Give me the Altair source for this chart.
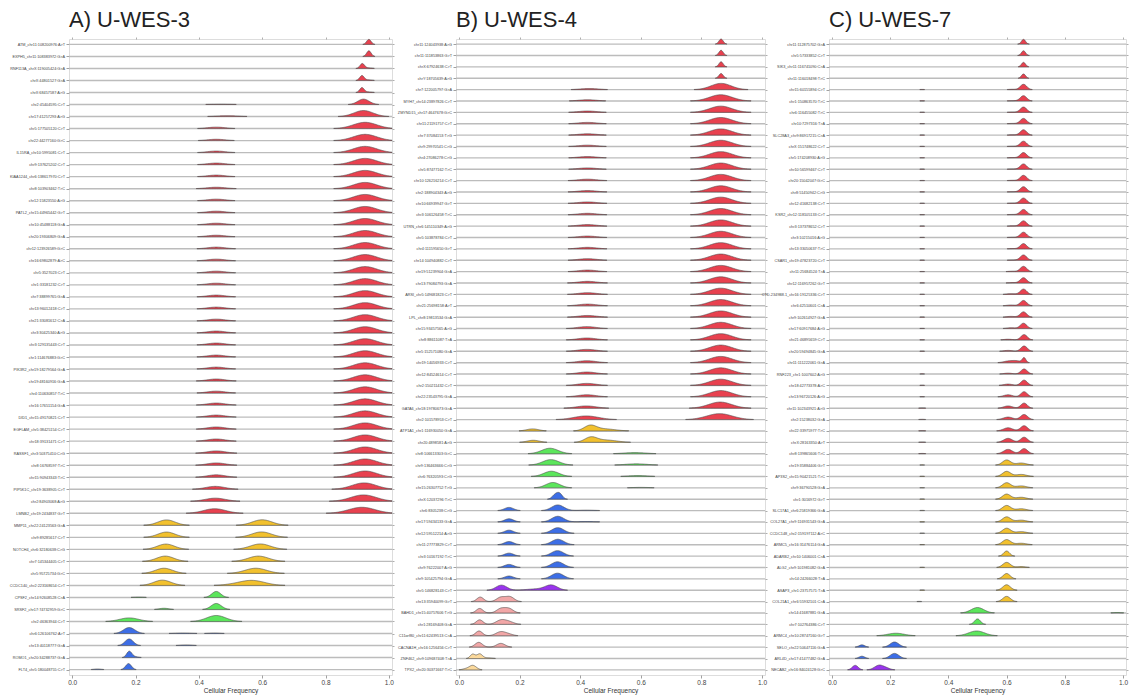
import json
import numpy as np
import pandas as pd
import altair as alt

# ---------------- data ----------------
A_labels = [
    "ATM_chr11:108200976:A>T", "EXPH5_chr11:108383972:G>A", "RNF113A_chrX:119005424:G>A",
    "chrX:44801527:G>A", "chrX:68457587:A>G", "chr2:45404595:C>T", "chr17:41257293:A>G",
    "chr5:177505120:C>T", "chr22:44277160:G>C", "IL15RA_chr10:5995081:C>T", "chr9:137625202:C>T",
    "KIAA1244_chr6:138617970:C>T", "chr8:103903462:T>C", "chr12:15823550:A>G",
    "PATL2_chr15:44965442:G>T", "chr10:45488118:G>A", "chr20:19306809:G>A",
    "chr12:123926589:G>C", "chr16:69802879:A>C", "chr5:3527023:C>T", "chr1:33181232:C>T",
    "chr7:38899765:G>A", "chr13:96012418:C>T", "chr21:33081612:C>A", "chr3:30425340:A>G",
    "chr3:129135443:C>T", "chr1:114676883:G>C", "PIK3R2_chr19:18279564:G>A",
    "chr19:48160916:G>A", "chr4:110630857:T>C", "chr16:17651154:G>A", "DID1_chr15:49170821:C>T",
    "EGFLAM_chr5:38425154:C>T", "chr18:39131471:C>T", "RASSF1_chr3:50375410:C>G",
    "chr8:16768597:T>C", "chr15:90943343:T>C", "PIP5K1C_chr19:3638905:C>T", "chr2:84903068:A>G",
    "LMNB2_chr19:2434837:G>T", "MMP11_chr22:24123563:G>A", "chr9:89285617:C>T",
    "NOTCH4_chr6:32180638:C>G", "chr7:145344405:C>T", "chr5:95725734:G>C",
    "CCDC140_chr2:223168654:C>T", "CPSF2_chr14:92608528:C>A", "SRSF2_chr17:74732959:G>C",
    "chr2:46363944:C>T", "chr6:126106762:A>T", "chr13:40118777:G>A",
    "ROMO1_chr20:34288737:G>A", "FLT4_chr5:180048755:C>T",
]
A_groups = ["r"] * 40 + ["y"] * 6 + ["g"] * 3 + ["b"] * 4
A_peaks = [
    [(0.937, 0.007, 0.42)],
    [(0.937, 0.007, 0.47)],
    [(0.916, 0.007, 0.40), (0.935, 0.012, 0.05)],
    [(0.915, 0.007, 0.40), (0.935, 0.012, 0.05)],
    [(0.915, 0.007, 0.40), (0.935, 0.012, 0.05)],
    [(0.920, 0.018, 0.45), (0.470, 0.040, 0.03)],
    [(0.920, 0.030, 0.50), (0.490, 0.035, 0.07)],
    [(0.925, 0.037, 0.52), (0.455, 0.028, 0.12)],
    [(0.925, 0.037, 0.52), (0.455, 0.028, 0.11)],
    [(0.925, 0.037, 0.52), (0.455, 0.028, 0.13)],
    [(0.925, 0.037, 0.52), (0.455, 0.028, 0.13)],
    [(0.925, 0.037, 0.52), (0.455, 0.028, 0.13)],
    [(0.925, 0.037, 0.52), (0.455, 0.030, 0.12)],
    [(0.925, 0.037, 0.52), (0.455, 0.028, 0.13)],
    [(0.925, 0.037, 0.52), (0.455, 0.028, 0.13)],
    [(0.925, 0.037, 0.52), (0.455, 0.028, 0.13)],
    [(0.925, 0.037, 0.52), (0.455, 0.028, 0.13)],
    [(0.925, 0.037, 0.52), (0.455, 0.028, 0.14)],
    [(0.925, 0.037, 0.52), (0.455, 0.028, 0.14)],
    [(0.925, 0.037, 0.52), (0.455, 0.028, 0.14)],
    [(0.925, 0.037, 0.52), (0.455, 0.028, 0.14)],
    [(0.925, 0.037, 0.52), (0.455, 0.028, 0.15)],
    [(0.925, 0.037, 0.52), (0.455, 0.028, 0.15)],
    [(0.925, 0.037, 0.52), (0.455, 0.028, 0.15)],
    [(0.925, 0.037, 0.52), (0.455, 0.028, 0.16)],
    [(0.925, 0.037, 0.52), (0.455, 0.028, 0.16)],
    [(0.925, 0.037, 0.52), (0.455, 0.028, 0.16)],
    [(0.925, 0.037, 0.52), (0.455, 0.028, 0.16)],
    [(0.925, 0.037, 0.52), (0.455, 0.028, 0.17)],
    [(0.925, 0.037, 0.52), (0.455, 0.028, 0.16)],
    [(0.925, 0.037, 0.52), (0.455, 0.028, 0.17)],
    [(0.925, 0.037, 0.52), (0.455, 0.028, 0.17)],
    [(0.925, 0.037, 0.52), (0.455, 0.028, 0.18)],
    [(0.925, 0.037, 0.52), (0.455, 0.028, 0.18)],
    [(0.925, 0.037, 0.52), (0.455, 0.028, 0.19)],
    [(0.925, 0.037, 0.52), (0.455, 0.028, 0.19)],
    [(0.925, 0.037, 0.52), (0.455, 0.028, 0.20)],
    [(0.922, 0.038, 0.53), (0.452, 0.030, 0.24)],
    [(0.920, 0.040, 0.53), (0.452, 0.032, 0.26)],
    [(0.915, 0.042, 0.50), (0.450, 0.035, 0.38)],
    [(0.298, 0.027, 0.45), (0.600, 0.031, 0.46)],
    [(0.298, 0.027, 0.44), (0.598, 0.031, 0.45)],
    [(0.296, 0.027, 0.44), (0.594, 0.032, 0.45)],
    [(0.294, 0.027, 0.44), (0.588, 0.032, 0.44)],
    [(0.290, 0.027, 0.43), (0.580, 0.034, 0.43)],
    [(0.285, 0.027, 0.44), (0.567, 0.040, 0.42), (0.500, 0.030, 0.04)],
    [(0.455, 0.014, 0.50), (0.210, 0.020, 0.03)],
    [(0.455, 0.016, 0.50), (0.290, 0.015, 0.10)],
    [(0.180, 0.030, 0.30), (0.455, 0.030, 0.50)],
    [(0.180, 0.018, 0.50), (0.350, 0.030, 0.04), (0.450, 0.020, 0.04)],
    [(0.180, 0.013, 0.55), (0.360, 0.020, 0.05)],
    [(0.180, 0.008, 0.50), (0.195, 0.012, 0.08)],
    [(0.178, 0.009, 0.50), (0.080, 0.012, 0.05)],
]

B_labels = [
    "chr11:124043938:A>G", "chr11:111853863:G>T", "chrX:67924638:C>T", "chrY:18705639:A>G",
    "chr7:122005797:G>A", "MYH7_chr14:23897826:C>T", "ZMYND15_chr17:4647678:G>C",
    "chr11:21191757:C>T", "chr7:37084153:T>G", "chr9:29970541:C>G", "chr4:27086278:C>G",
    "chr5:87477162:T>C", "chr10:126216214:C>T", "chr2:188904343:A>G", "chr10:66939947:G>T",
    "chr3:106126458:T>C", "UTRN_chr6:145110349:A>G", "chr5:103878784:C>T",
    "chr4:111595650:G>T", "chr14:104940882:C>T", "chr19:51239904:G>A", "chr13:79084793:G>A",
    "ARSI_chr5:149681823:C>T", "chr21:25698158:A>T", "LPL_chr8:19813534:G>A",
    "chr15:93457565:A>G", "chr8:88611087:T>A", "chr5:152571080:G>A", "chr19:14056933:C>T",
    "chr12:84524614:C>T", "chr2:150211432:C>T", "chr22:23543795:G>A",
    "GATA6_chr18:19780673:G>A", "chr2:101578953:C>T", "ATP1A1_chr1:116930050:G>A",
    "chr20:4898581:A>G", "chr8:106613303:G>C", "chr9:136463666:C>G", "chr6:76320593:C>G",
    "chr15:26307752:T>G", "chrX:12037296:T>C", "chr6:8305238:C>G", "chr17:59434133:G>A",
    "chr12:59512214:A>G", "chr11:27773829:C>T", "chr3:10167192:T>C", "chr9:76222007:A>G",
    "chr9:105425794:G>A", "chr5:146828143:C>T", "chr13:35940099:G>T",
    "BAHD1_chr15:40757606:T>G", "chr1:28169408:G>A", "C11orf80_chr11:62439513:C>A",
    "CACNA1H_chr16:1256456:C>T", "ZNF462_chr9:109687408:T>A", "TPX2_chr20:30371667:T>C",
]
B_groups = ["r"] * 34 + ["y"] * 2 + ["g"] * 4 + ["b"] * 8 + ["p"] + ["k"] * 5 + ["t"] * 2
B_peaks = [
    [(0.865, 0.007, 0.45)],
    [(0.865, 0.007, 0.46)],
    [(0.865, 0.007, 0.45)],
    [(0.865, 0.007, 0.42)],
    [(0.865, 0.033, 0.55), (0.430, 0.030, 0.10)],
    [(0.864, 0.037, 0.55), (0.424, 0.030, 0.11)],
    [(0.864, 0.037, 0.55), (0.424, 0.030, 0.12)],
    [(0.864, 0.037, 0.55), (0.424, 0.030, 0.12)],
    [(0.864, 0.037, 0.55), (0.424, 0.030, 0.12)],
    [(0.864, 0.037, 0.55), (0.424, 0.030, 0.12)],
    [(0.864, 0.037, 0.55), (0.424, 0.030, 0.12)],
    [(0.864, 0.037, 0.55), (0.424, 0.030, 0.12)],
    [(0.864, 0.037, 0.55), (0.424, 0.030, 0.13)],
    [(0.864, 0.037, 0.55), (0.424, 0.030, 0.13)],
    [(0.864, 0.037, 0.55), (0.424, 0.030, 0.13)],
    [(0.864, 0.037, 0.55), (0.424, 0.030, 0.13)],
    [(0.864, 0.037, 0.55), (0.424, 0.030, 0.14)],
    [(0.864, 0.037, 0.55), (0.424, 0.030, 0.13)],
    [(0.864, 0.037, 0.55), (0.424, 0.030, 0.14)],
    [(0.864, 0.037, 0.55), (0.424, 0.030, 0.14)],
    [(0.864, 0.037, 0.55), (0.424, 0.030, 0.14)],
    [(0.864, 0.037, 0.55), (0.424, 0.030, 0.15)],
    [(0.864, 0.037, 0.55), (0.424, 0.030, 0.15)],
    [(0.864, 0.037, 0.55), (0.424, 0.030, 0.15)],
    [(0.864, 0.037, 0.55), (0.424, 0.030, 0.15)],
    [(0.864, 0.037, 0.55), (0.422, 0.030, 0.17)],
    [(0.864, 0.037, 0.55), (0.422, 0.030, 0.17)],
    [(0.864, 0.037, 0.55), (0.422, 0.030, 0.17)],
    [(0.864, 0.037, 0.55), (0.422, 0.030, 0.17)],
    [(0.864, 0.037, 0.55), (0.422, 0.030, 0.18)],
    [(0.864, 0.037, 0.55), (0.422, 0.030, 0.18)],
    [(0.864, 0.037, 0.55), (0.422, 0.030, 0.18)],
    [(0.862, 0.038, 0.54), (0.420, 0.032, 0.20)],
    [(0.860, 0.042, 0.52), (0.420, 0.040, 0.32)],
    [(0.243, 0.020, 0.18), (0.433, 0.020, 0.45), (0.480, 0.035, 0.18)],
    [(0.245, 0.020, 0.18), (0.435, 0.020, 0.42), (0.485, 0.035, 0.20)],
    [(0.300, 0.027, 0.48), (0.580, 0.035, 0.10)],
    [(0.303, 0.027, 0.48), (0.585, 0.035, 0.11)],
    [(0.305, 0.025, 0.46), (0.590, 0.030, 0.08)],
    [(0.310, 0.023, 0.47), (0.600, 0.030, 0.04)],
    [(0.318, 0.010, 0.40), (0.333, 0.009, 0.42)],
    [(0.165, 0.015, 0.28), (0.326, 0.020, 0.50), (0.420, 0.030, 0.04)],
    [(0.165, 0.015, 0.28), (0.326, 0.020, 0.50), (0.420, 0.030, 0.04)],
    [(0.165, 0.015, 0.28), (0.326, 0.020, 0.50)],
    [(0.165, 0.015, 0.28), (0.326, 0.020, 0.48)],
    [(0.165, 0.015, 0.26), (0.325, 0.020, 0.48)],
    [(0.165, 0.015, 0.27), (0.325, 0.020, 0.50)],
    [(0.165, 0.015, 0.25), (0.325, 0.020, 0.50)],
    [(0.140, 0.018, 0.45), (0.305, 0.020, 0.42), (0.260, 0.035, 0.12)],
    [(0.070, 0.011, 0.40), (0.138, 0.014, 0.38), (0.168, 0.014, 0.42)],
    [(0.068, 0.011, 0.40), (0.138, 0.014, 0.38), (0.165, 0.014, 0.38)],
    [(0.068, 0.011, 0.40), (0.138, 0.016, 0.36), (0.165, 0.016, 0.22)],
    [(0.066, 0.011, 0.42), (0.138, 0.016, 0.35), (0.165, 0.014, 0.12)],
    [(0.065, 0.012, 0.42), (0.138, 0.014, 0.33)],
    [(0.045, 0.008, 0.38), (0.068, 0.009, 0.40), (0.095, 0.015, 0.06)],
    [(0.045, 0.012, 0.40), (0.020, 0.010, 0.08)],
]

C_labels = [
    "chr11:112875702:G>A", "chr5:57333852:C>T", "SIK3_chr11:116741090:C>A",
    "chr11:116018498:T>C", "chr15:60155894:C>T", "chr1:150863570:T>C", "chr6:116455082:T>C",
    "chr10:7297316:T>A", "SLC28A3_chr9:86917215:C>A", "chrX:151748622:C>T",
    "chr5:174208930:A>G", "chr10:56599467:C>T", "chr20:15042047:G>C", "chr8:51450942:C>G",
    "chr12:41682138:C>T", "KSR2_chr12:118105133:C>T", "chr3:137378652:C>T",
    "chr3:10215016:A>G", "chr13:33050637:T>C", "CSAR1_chr19:47823720:C>T",
    "chr11:25684524:T>A", "chr12:116957262:G>T", "CTD-2349B8.1_chr16:19125336:C>T",
    "chr6:42510601:C>A", "chr9:102614927:G>A", "chr17:60917684:A>G", "chr21:46895659:C>T",
    "chr20:59494845:G>A", "chr11:111222061:G>A", "RNF223_chr1:1007602:A>G",
    "chr18:42773378:A>C", "chr13:96720126:A>G", "chr11:102343921:A>G", "chr2:15238032:G>A",
    "chr22:33975977:T>C", "chrX:28163350:A>T", "chr8:139865606:T>C", "chr19:35884406:G>T",
    "AP3S2_chr15:90421521:T>C", "chr9:36790528:G>A", "chr1:3016972:G>T",
    "SLC17A1_chr6:25819366:G>A", "COL27A1_chr9:116931543:G>A", "CCDC148_chr2:159197112:A>C",
    "ARMC5_chr16:31476114:G>A", "ADARB2_chr10:1406001:C>A", "ALG2_chr9:101981082:G>A",
    "chr14:24266028:T>A", "ASAP3_chr1:23757571:T>A", "COL21A1_chr6:55932101:C>A",
    "chr14:41687881:G>A", "chr7:102764386:C>T", "ARMC4_chr10:28747160:G>T",
    "SELO_chr22:50647116:G>A", "ARL4D_chr17:41477482:G>A", "NECAB2_chr16:84024128:G>C",
]
C_groups = ["r"] * 37 + ["y"] * 13 + ["g"] * 3 + ["b"] * 2 + ["p"]
C_peaks = [
    [(0.658, 0.007, 0.42)],
    [(0.658, 0.007, 0.42)],
    [(0.658, 0.007, 0.40)],
    [(0.658, 0.007, 0.38)],
    [(0.658, 0.011, 0.47), (0.620, 0.015, 0.03), (0.310, 0.010, 0.02)],
    [(0.658, 0.011, 0.47), (0.620, 0.015, 0.03), (0.310, 0.010, 0.02)],
    [(0.658, 0.011, 0.47), (0.620, 0.015, 0.03), (0.310, 0.010, 0.02)],
    [(0.658, 0.011, 0.47), (0.620, 0.015, 0.03), (0.310, 0.010, 0.02)],
    [(0.658, 0.011, 0.47), (0.620, 0.015, 0.03), (0.310, 0.010, 0.02)],
    [(0.658, 0.011, 0.47), (0.620, 0.015, 0.03), (0.310, 0.010, 0.02)],
    [(0.658, 0.011, 0.47), (0.620, 0.015, 0.03), (0.310, 0.010, 0.02)],
    [(0.658, 0.011, 0.47), (0.620, 0.015, 0.03), (0.310, 0.010, 0.02)],
    [(0.658, 0.011, 0.47), (0.620, 0.015, 0.03), (0.310, 0.010, 0.02)],
    [(0.658, 0.011, 0.47), (0.620, 0.015, 0.03), (0.310, 0.010, 0.02)],
    [(0.658, 0.011, 0.47), (0.620, 0.015, 0.03), (0.310, 0.010, 0.02)],
    [(0.658, 0.011, 0.47), (0.620, 0.015, 0.03), (0.310, 0.010, 0.02)],
    [(0.658, 0.011, 0.47), (0.620, 0.015, 0.03), (0.310, 0.010, 0.02)],
    [(0.658, 0.011, 0.47), (0.620, 0.015, 0.03), (0.310, 0.010, 0.02)],
    [(0.658, 0.011, 0.47), (0.620, 0.015, 0.03), (0.310, 0.010, 0.02)],
    [(0.658, 0.011, 0.47), (0.620, 0.015, 0.03), (0.310, 0.010, 0.02)],
    [(0.658, 0.011, 0.47), (0.620, 0.015, 0.04), (0.310, 0.010, 0.02)],
    [(0.658, 0.011, 0.47), (0.620, 0.015, 0.04), (0.310, 0.010, 0.02)],
    [(0.658, 0.011, 0.47), (0.615, 0.015, 0.07), (0.310, 0.010, 0.02)],
    [(0.658, 0.011, 0.47), (0.615, 0.015, 0.07), (0.310, 0.010, 0.02)],
    [(0.658, 0.011, 0.47), (0.615, 0.015, 0.07), (0.310, 0.010, 0.02)],
    [(0.658, 0.011, 0.47), (0.615, 0.015, 0.07), (0.310, 0.010, 0.02)],
    [(0.660, 0.011, 0.47), (0.605, 0.015, 0.06), (0.310, 0.010, 0.02)],
    [(0.660, 0.011, 0.47), (0.605, 0.015, 0.08), (0.310, 0.010, 0.02)],
    [(0.660, 0.006, 0.40), (0.630, 0.020, 0.18), (0.600, 0.015, 0.08)],
    [(0.660, 0.011, 0.45), (0.605, 0.015, 0.08), (0.310, 0.010, 0.02)],
    [(0.660, 0.011, 0.47), (0.605, 0.015, 0.12), (0.310, 0.010, 0.02)],
    [(0.660, 0.011, 0.45), (0.605, 0.015, 0.18), (0.310, 0.010, 0.02)],
    [(0.660, 0.011, 0.45), (0.605, 0.015, 0.20), (0.310, 0.010, 0.025)],
    [(0.660, 0.012, 0.45), (0.605, 0.016, 0.22), (0.310, 0.010, 0.025)],
    [(0.660, 0.012, 0.46), (0.605, 0.016, 0.28), (0.310, 0.010, 0.025)],
    [(0.660, 0.012, 0.45), (0.605, 0.015, 0.35), (0.310, 0.010, 0.025)],
    [(0.660, 0.012, 0.45), (0.605, 0.015, 0.38), (0.310, 0.010, 0.025)],
    [(0.600, 0.014, 0.45), (0.650, 0.018, 0.18), (0.310, 0.010, 0.02)],
    [(0.600, 0.014, 0.45), (0.650, 0.018, 0.18), (0.310, 0.010, 0.02)],
    [(0.600, 0.014, 0.45), (0.650, 0.018, 0.17), (0.310, 0.010, 0.02)],
    [(0.600, 0.014, 0.45), (0.650, 0.018, 0.17), (0.310, 0.010, 0.02)],
    [(0.600, 0.014, 0.45), (0.650, 0.018, 0.16), (0.310, 0.010, 0.02)],
    [(0.600, 0.014, 0.45), (0.650, 0.018, 0.16), (0.310, 0.010, 0.02)],
    [(0.600, 0.014, 0.45), (0.650, 0.018, 0.15), (0.310, 0.010, 0.02)],
    [(0.600, 0.014, 0.45), (0.650, 0.018, 0.13), (0.310, 0.010, 0.02)],
    [(0.600, 0.010, 0.45)],
    [(0.600, 0.013, 0.45), (0.650, 0.015, 0.08), (0.310, 0.010, 0.02)],
    [(0.600, 0.012, 0.47)],
    [(0.600, 0.013, 0.48), (0.310, 0.010, 0.02)],
    [(0.600, 0.013, 0.46), (0.300, 0.010, 0.02)],
    [(0.500, 0.022, 0.48), (0.980, 0.015, 0.04)],
    [(0.500, 0.010, 0.48)],
    [(0.220, 0.028, 0.22), (0.497, 0.027, 0.42)],
    [(0.103, 0.010, 0.20), (0.215, 0.015, 0.45)],
    [(0.103, 0.010, 0.20), (0.215, 0.015, 0.45)],
    [(0.080, 0.010, 0.40), (0.163, 0.016, 0.42), (0.190, 0.012, 0.10)],
]

GROUP_DOMAIN = ["r", "y", "g", "b", "p", "k", "t"]
GROUP_COLORS = ["#e8414f", "#f2c12e", "#5ce65c", "#3d6ee6", "#9a34ee", "#f2a7a7", "#fbd99c"]
X_TICKS = [0.0, 0.2, 0.4, 0.6, 0.8, 1.0]

FONT = "Liberation Sans"
PLOT_H = 636


def ridge_table(labels, groups, peaks):
    n = len(labels)
    xs = np.round(np.arange(-0.01, 1.0101, 0.002), 4)
    recs = []
    for i, (g, pk) in enumerate(zip(groups, peaks)):
        base = n - 1 - i
        h = np.zeros_like(xs)
        for mu, sd, amp in pk:
            h += amp * np.exp(-0.5 * ((xs - mu) / sd) ** 2)
        mask = h > 0.015
        keep = mask.copy()
        keep[1:] |= mask[:-1]
        keep[:-1] |= mask[1:]
        seg, prev = 0, False
        for j in range(len(xs)):
            if keep[j]:
                if not prev:
                    seg += 1
                recs.append({"x": float(xs[j]), "top": round(base + float(h[j]), 4),
                             "base": base, "g": g, "seg": f"{i}-{seg}"})
            prev = bool(keep[j])
    return pd.DataFrame(recs)


def panel(title, labels, groups, peaks, width):
    n = len(labels)
    df = ridge_table(labels, groups, peaks)
    expr = json.dumps(labels[::-1]) + "[datum.value]"
    xscale = alt.Scale(domain=[-0.01, 1.01], nice=False, zero=False)
    yscale = alt.Scale(domain=[-0.45, n - 1 + 0.45], nice=False, zero=False)
    yaxis = alt.Axis(orient="left", values=list(range(n)), labelExpr=expr, title=None,
                     grid=False, domain=False, tickSize=3, tickColor="#888", tickWidth=0.8,
                     labelFontSize=3.8, labelColor="#444", labelPadding=1.5,
                     labelOverlap=False, labelFont=FONT)
    xaxis = alt.Axis(orient="bottom", values=X_TICKS, format=".1f", title="Cellular Frequency",
                     grid=False, domain=False, tickSize=3, tickColor="#888", tickWidth=0.8,
                     labelFontSize=6.5, labelColor="#444", labelPadding=1, labelFont=FONT,
                     titleFontSize=6.5, titleFontWeight="normal", titleColor="#333",
                     titlePadding=2, titleFont=FONT)
    xaxis_top = alt.Axis(orient="top", values=X_TICKS, labels=False, title=None, grid=False,
                         domain=False, tickSize=2, tickColor="#999", tickWidth=0.8)
    yaxis_right = alt.Axis(orient="right", values=list(range(n)), labels=False, title=None,
                           grid=False, domain=False, tickSize=2, tickColor="#999",
                           tickWidth=0.8)
    rules = alt.Chart(pd.DataFrame({"base": list(range(n))})).mark_rule(
        color="#bcbcbc", strokeWidth=1.4
    ).encode(y=alt.Y("base:Q", scale=yscale, axis=yaxis))
    area = alt.Chart(df).mark_area(stroke="#4a4a4a", strokeWidth=0.6, opacity=1).encode(
        x=alt.X("x:Q", scale=xscale, axis=xaxis),
        y=alt.Y("top:Q", scale=yscale, axis=None),
        y2="base:Q",
        color=alt.Color("g:N", scale=alt.Scale(domain=GROUP_DOMAIN, range=GROUP_COLORS), legend=None),
        detail="seg:N",
    )
    frame_ticks = alt.Chart(pd.DataFrame({"base": list(range(n)), "x": [0.5] * n})).mark_point(
        opacity=0
    ).encode(
        x=alt.X("x:Q", scale=xscale, axis=xaxis_top),
        y=alt.Y("base:Q", scale=yscale, axis=yaxis_right),
    )
    return alt.layer(rules, area, frame_ticks).resolve_axis(
        x="independent", y="independent"
    ).properties(
        width=width, height=PLOT_H,
        title=alt.TitleParams(title, anchor="start", fontSize=22, font=FONT,
                              fontWeight="normal", color="#222", offset=5, frame="group"),
    )


pA = panel("A) U-WES-3", A_labels, A_groups, A_peaks, 323)
pB = panel("B) U-WES-4", B_labels, B_groups, B_peaks, 309)
pC = panel("C) U-WES-7", C_labels, C_groups, C_peaks, 297)

chart = alt.hconcat(pA, pB, pC, spacing=64, bounds="flush").properties(
    padding=0
).configure_view(stroke="#8a8a8a", strokeWidth=1).configure(font=FONT)

chart.save("out.html", embed_options={"renderer": "svg", "actions": False})
